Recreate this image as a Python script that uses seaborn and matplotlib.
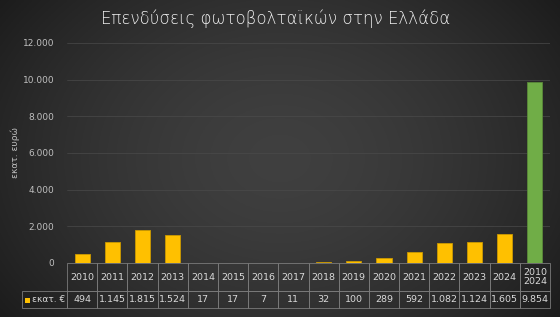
import numpy as np
import pandas as pd
import matplotlib
matplotlib.use("Agg")
import matplotlib.pyplot as plt
import seaborn as sns
from matplotlib.patches import Rectangle
from matplotlib.ticker import FuncFormatter

categories = ["2010", "2011", "2012", "2013", "2014", "2015", "2016", "2017",
              "2018", "2019", "2020", "2021", "2022", "2023", "2024", "2010\n2024"]
values = [494, 1145, 1815, 1524, 17, 17, 7, 11, 32, 100, 289, 592, 1082, 1124, 1605, 9854]
kind = ["year"] * 15 + ["total"]
title = "Επενδύσεις φωτοβολταϊκών στην Ελλάδα"
ylabel = "εκατ. ευρώ"
series_label = "εκατ. €"

sns.set_theme(style="white")
plt.rcParams["font.family"] = ["DejaVu Sans"]

W, H = 560, 317
fig = plt.figure(figsize=(W / 100, H / 100), dpi=100)

# gradient background
bg = fig.add_axes([0, 0, 1, 1], zorder=-10)
yy, xx = np.mgrid[0:1:200j, 0:1:350j]
r = np.sqrt(((xx - 0.5) / 0.7) ** 2 + ((yy - 0.5) / 0.95) ** 2)
g = np.clip(0.25 - 0.17 * r ** 1.6, 0.10, 0.26)
bg.imshow(np.dstack([g, g, g]), aspect="auto", extent=[0, 1, 0, 1])
bg.axis("off")

left, right = 67 / W, 550 / W
bottom, top = (H - 263) / H, (H - 43) / H
ax = fig.add_axes([left, bottom, right - left, top - bottom])
ax.patch.set_alpha(0)

df = pd.DataFrame({"cat": categories, "val": values, "kind": kind})
sns.barplot(data=df, x="cat", y="val", hue="kind", dodge=False, width=0.5,
            palette={"year": "#FFC000", "total": "#70AD47"}, legend=False,
            saturation=1, ax=ax, zorder=3)
for bar in ax.patches:
    fc = bar.get_facecolor()
    bar.set_edgecolor((fc[0] * 0.8, fc[1] * 0.8, fc[2] * 0.8, 1))
    bar.set_linewidth(0.6)

ax.set_xlim(-0.5, len(categories) - 0.5)
ax.set_ylim(0, 12000)
ax.set_yticks(range(0, 12001, 2000))
ax.yaxis.set_major_formatter(FuncFormatter(lambda v, p: f"{int(v):,}".replace(",", ".")))
ax.tick_params(axis="y", colors="#bfbfbf", labelsize=6.5, length=0, pad=9)
ax.set_xticks([])
ax.set_xlabel("")
ax.set_ylabel(ylabel, color="#bfbfbf", fontsize=6.5)
ax.yaxis.set_label_coords((20 - 67) / 483, 0.5)
for s in ax.spines.values():
    s.set_visible(False)
ax.grid(axis="y", color="#4a4a4a", linewidth=0.5, zorder=0)

# data table
h1, h2 = 28 / 220, 17 / 220
vals_txt = [f"{v:,}".replace(",", ".") for v in values]
tbl = ax.table(cellText=[categories, vals_txt], cellLoc="center",
               bbox=[0, -(h1 + h2), 1, h1 + h2])
tbl.auto_set_font_size(False)
for (r_, c_), cell in tbl.get_celld().items():
    cell.set_height(28 if r_ == 0 else 17)
    cell.set_edgecolor("#7a7a7a")
    cell.set_linewidth(0.6)
    cell.set_facecolor("none")
    cell.get_text().set_color("#d9d9d9")
    cell.get_text().set_fontsize(6.8)
    if r_ == 0 and c_ == len(categories) - 1:
        cell.get_text().set_linespacing(1.1)

# legend cell
lx0 = (22 - 67) / 483
ax.add_patch(Rectangle((lx0, -(h1 + h2)), -lx0, h2, transform=ax.transAxes,
                       fill=False, edgecolor="#7a7a7a", linewidth=0.6, clip_on=False))
ax.add_patch(Rectangle(((25 - 67) / 483, -(h1 + h2) + 0.022), 5 / 483, 5 / 220,
                       transform=ax.transAxes, facecolor="#FFC000",
                       edgecolor="none", clip_on=False))
ax.text((32 - 67) / 483, -(h1 + h2) + h2 / 2, series_label, transform=ax.transAxes,
        ha="left", va="center", color="#d9d9d9", fontsize=6.5, clip_on=False)

fig.text(276 / W, 1 - 19 / H, title, ha="center", va="center",
         color="#f0f0f0", fontsize=12, fontweight="light")

fig.savefig("out.png", dpi=100)
